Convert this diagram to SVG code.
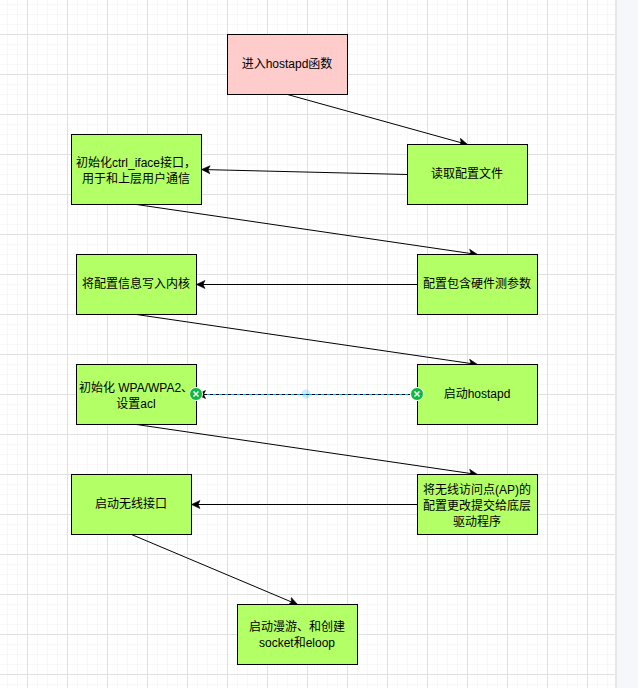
<svg xmlns="http://www.w3.org/2000/svg" width="638" height="688" viewBox="0 0 638 688">
<style>
.n{fill:#b3ff66;stroke:#000;stroke-width:1}
text{font-family:"Liberation Sans","Noto Sans CJK SC",sans-serif;font-size:12px;fill:#000;text-anchor:middle}
.c{fill:none;stroke:#000;stroke-width:1;marker-end:url(#a)}
</style>
<defs>
<marker id="a" markerUnits="userSpaceOnUse" markerWidth="12" markerHeight="10" refX="9" refY="5" orient="auto"><path d="M0.500 1L9 5L0.500 9L2.500 5Z" fill="#000" stroke="#000" stroke-width="0.600"/></marker>
<pattern id="g" width="40" height="40" patternUnits="userSpaceOnUse" x="-13" y="-6">
<path d="M0.500 0V40M10.500 0V40M20.500 0V40M30.500 0V40M0 0.500H40M0 10.500H40M0 20.500H40M0 30.500H40" stroke="#f7f7f7" fill="none"/>
<path d="M0.500 0V40M0 0.500H40" stroke="#e0e0e0" fill="none"/>
</pattern>
</defs>
<rect width="638" height="688" fill="#fff"/>
<rect width="615" height="688" fill="url(#g)"/>
<rect x="615" width="2" height="688" fill="#e8e8e8"/>
<rect x="617" width="21" height="688" fill="#f6f7fa"/>
<g id="connectors">
<path class="c" d="M287.500 94.500L467.500 144.500"/>
<path class="c" d="M407.500 174.500L201.500 169.500"/>
<path class="c" d="M136.500 204.500L477.500 254.500"/>
<path class="c" d="M417.500 284.500L196.500 284.500"/>
<path class="c" d="M136.500 314.500L477.500 364.500"/>
<path class="c" d="M136.500 424.500L477.500 474.500"/>
<path class="c" d="M417.500 504.500L191.500 504.500"/>
<path class="c" d="M131.500 534.500L297.500 604.500"/>
<path d="M417 394.500H197" fill="none" stroke="#00a8ff" stroke-width="1"/>
<path class="c" d="M417 394.500H197" stroke-dasharray="3 3"/>
</g>
<g id="n1"><rect x="227.500" y="34.500" width="120" height="60" fill="#ffcccc" stroke="#000"/><text x="287" y="68">进入hostapd函数</text></g>
<g id="n2"><rect class="n" x="407.500" y="144.500" width="120" height="60"/><text x="467" y="178">读取配置文件</text></g>
<g id="n3"><rect class="n" x="71.500" y="134.500" width="130" height="70"/><text x="136" y="167">初始化ctrl_iface接口，</text><text x="136" y="183">用于和上层用户通信</text></g>
<g id="n4"><rect class="n" x="417.500" y="254.500" width="120" height="60"/><text x="477" y="288">配置包含硬件测参数</text></g>
<g id="n5"><rect class="n" x="76.500" y="254.500" width="120" height="60"/><text x="136" y="288">将配置信息写入内核</text></g>
<g id="n6"><rect class="n" x="417.500" y="364.500" width="120" height="60"/><text x="477" y="398">启动hostapd</text></g>
<g id="n7"><rect class="n" x="76.500" y="364.500" width="120" height="60"/><text x="136" y="392">初始化 WPA/WPA2、</text><text x="136" y="408">设置acl</text></g>
<g id="n8"><rect class="n" x="417.500" y="474.500" width="120" height="60"/><text x="477" y="494">将无线访问点(AP)的</text><text x="477" y="510">配置更改提交给底层</text><text x="477" y="526">驱动程序</text></g>
<g id="n9"><rect class="n" x="71.500" y="474.500" width="120" height="60"/><text x="131" y="508">启动无线接口</text></g>
<g id="n10"><rect class="n" x="237.500" y="604.500" width="120" height="60"/><text x="297" y="631">启动漫游、和创建</text><text x="297" y="647">socket和eloop</text></g>
<g id="handles">
<circle cx="306" cy="394" r="4.500" fill="#29b6f2" fill-opacity=".25"/>
<circle cx="196" cy="394" r="6.500" fill="#0fb83e" stroke="#fff"/>
<path d="M193.500 391.500l5 5m0-5l-5 5" stroke="#fff" stroke-width="1.500"/>
<circle cx="417" cy="394" r="6.500" fill="#0fb83e" stroke="#fff"/>
<path d="M414.500 391.500l5 5m0-5l-5 5" stroke="#fff" stroke-width="1.500"/>
</g>
</svg>
